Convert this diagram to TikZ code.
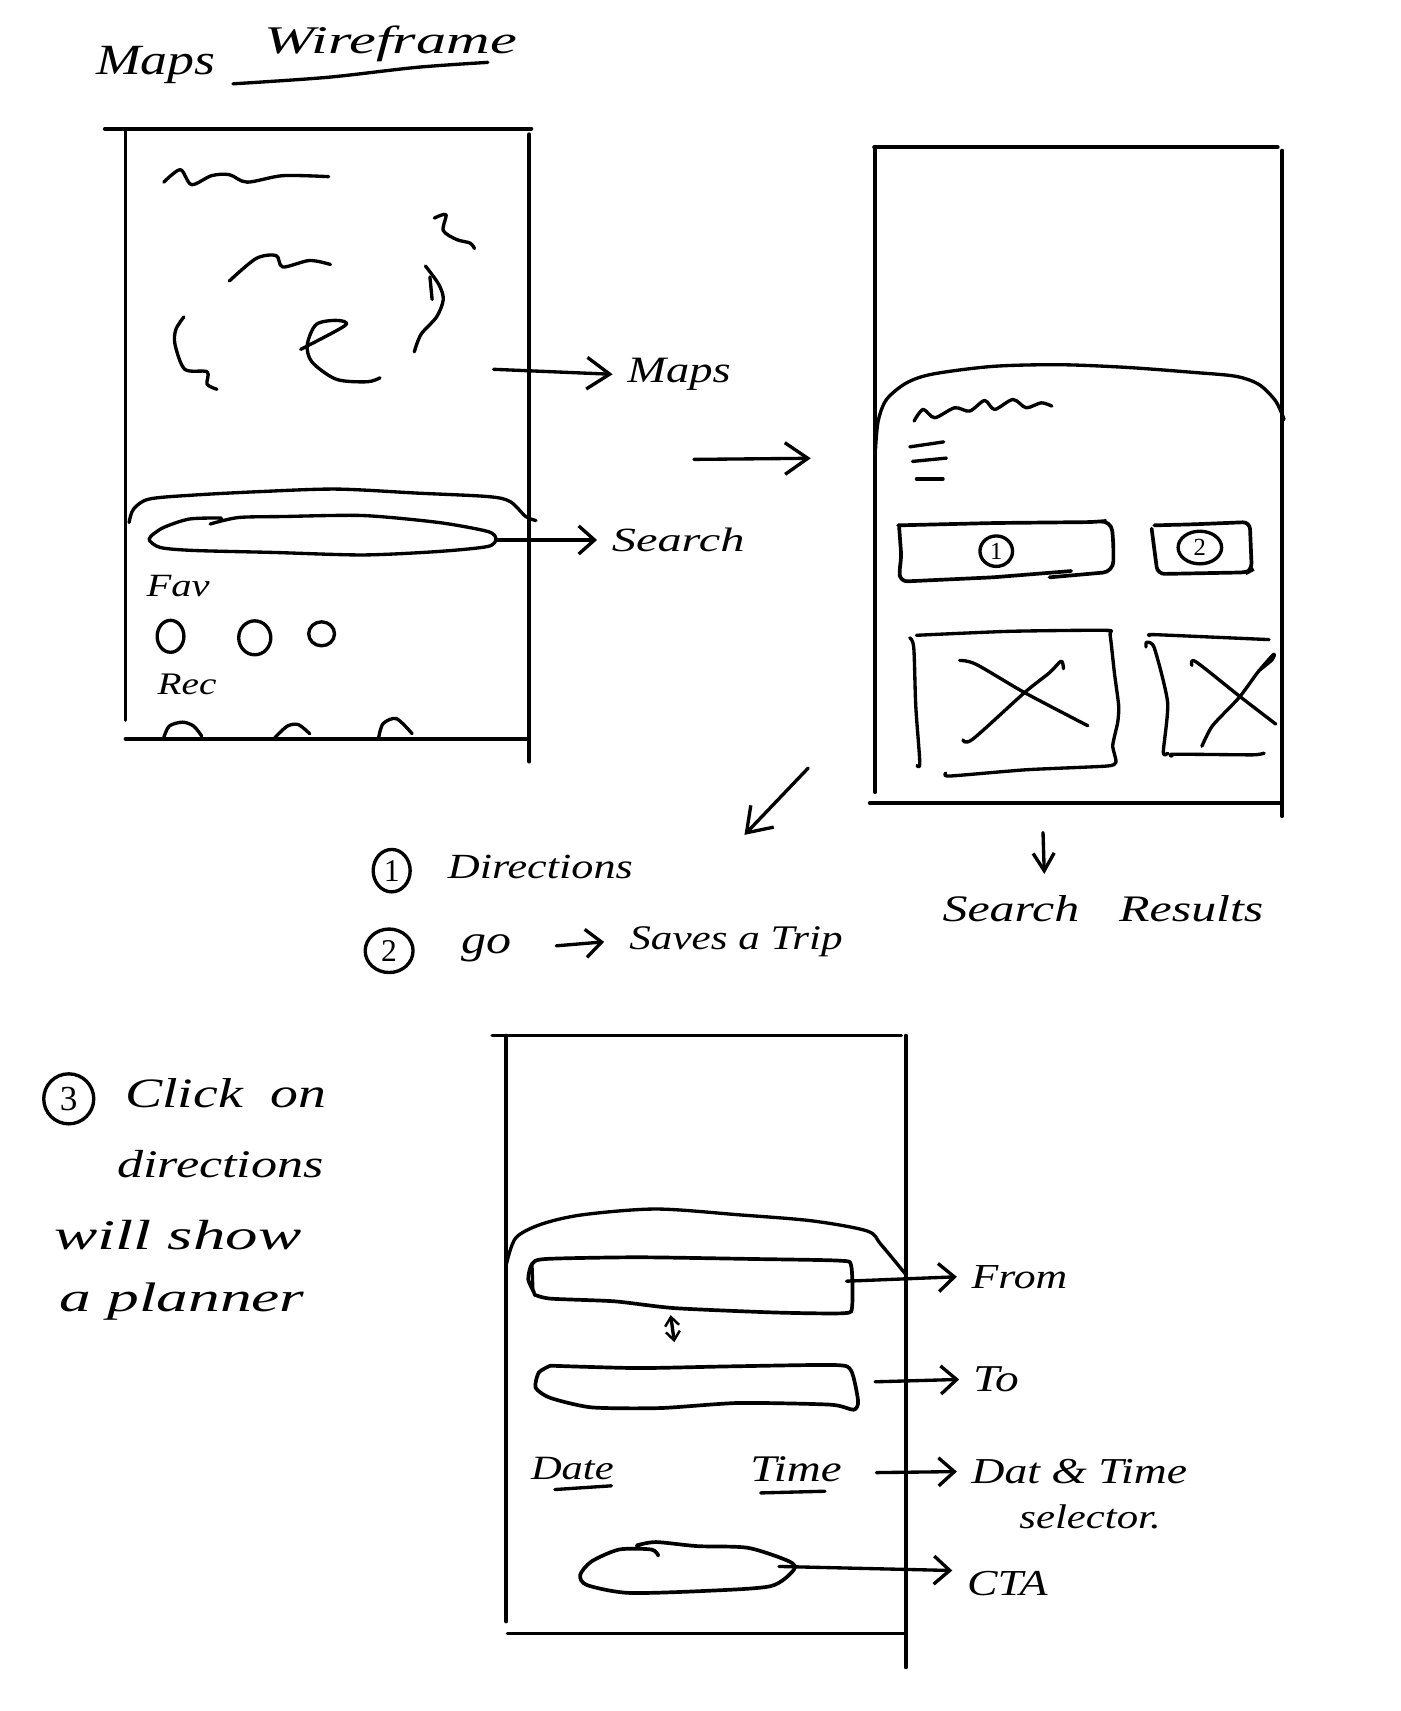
\documentclass[tikz,border=0pt]{standalone}
\usepackage{graphicx}
\usepackage{fontspec}
\setmainfont{Liberation Serif}
\usetikzlibrary{arrows.meta,shapes.geometric}
\newdimen\pxu \pxu=0.3094pt
\newcommand{\hw}[3][.8]{\scalebox{1}[#1]{\resizebox{#2\pxu}{!}{\itshape #3}}}
\tikzset{
  frame/.style={line width=1.05pt,black,line cap=round},
  sk/.style={line width=.95pt,black,line cap=round,line join=round},
  conn/.style={sk,-{Straight Barb[length=6.5pt,width=9pt,line width=.95pt]}},
  small conn/.style={sk,-{Straight Barb[length=4.5pt,width=8pt,line width=.95pt]}},
  tiny conn/.style={sk,{Straight Barb[length=2.5pt,width=4pt,line width=.7pt]}-{Straight Barb[length=2.5pt,width=4pt,line width=.7pt]}},
  hand/.style={inner sep=0pt,anchor=center},
  lab/.style={inner ysep=0pt,inner xsep=4pt,anchor=west},
  num/.style={draw,sk,ellipse,inner sep=0pt,font=\fontsize{7}{8}\selectfont}
}
\begin{document}
\begin{tikzpicture}[x=0.010912cm,y=-0.010912cm]
\useasboundingbox (0,0) rectangle (1283,1568);
% phone frames
\draw[frame] (96,118) -- (487,118);
\draw[frame] (115,119) -- (115,660);
\draw[frame] (485,123) -- (485,698);
\draw[frame] (115,677) -- (485,677);
\draw[frame] (801,135) -- (1171,135);
\draw[frame] (802,135) -- (802,726);
\draw[frame] (1175,138) -- (1175,748);
\draw[frame] (797,736) -- (1175,736);
\draw[frame] (451,949) -- (826,949);
\draw[frame] (464,949) -- (464,1486);
\draw[frame] (830,949) -- (830,1528);
\draw[frame] (465,1497) -- (830,1497);

% ---- first screen
\begin{scope}[shift={(55,0)},x=0.004463cm,y=-0.004987cm]
\node[hand] (titleA) at (215,130) {\hw{110}{Maps}};
\node[hand] (titleB) at (742,88) {\hw[.65]{232}{Wireframe}};
\draw[sk] plot[smooth] coordinates {(388,168) (600,155) (800,135) (960,125)};
\draw[sk] plot[smooth] coordinates {(233,365) (270,340) (295,370) (340,352) (380,350) (420,365) (500,352) (603,354)};
\draw[sk] plot[smooth] coordinates {(380,563) (440,518) (485,512) (500,535) (560,522) (607,530)};
\draw[sk] plot[smooth] coordinates {(840,437) (866,430) (860,462) (890,480) (920,487) (930,498)};
\draw[sk] plot[smooth] coordinates {(820,533) (850,570) (860,600) (845,635) (810,670) (795,705)};
\draw[sk] (835,600) -- (830,555);
\draw[sk] plot[smooth] coordinates {(278,635) (260,660) (258,690) (280,740) (330,745) (330,770) (352,780)};
\draw[sk] plot[smooth] coordinates {(540,700) (640,652) (620,642) (575,650) (555,690) (565,725) (620,760) (690,765) (718,757)};
\draw[sk] plot[smooth] coordinates {(155,1047) (165,1020) (200,1000) (300,992) (450,985) (620,980) (800,988) (960,995) (1010,1005) (1045,1035) (1068,1043)};
\draw[sk] plot[smooth,tension=.45] coordinates {(362,1038) (290,1040) (230,1058) (200,1080) (225,1097) (300,1103) (480,1107) (680,1112) (850,1105) (960,1095) (978,1080) (960,1065) (850,1047) (680,1033) (500,1035) (400,1037) (337,1050)};
\coordinate (mapsS) at (973,740);
\coordinate (pillE) at (978,1082);
\node[lab] (maps) at (1240,750) {\hw{95}{Maps}};
\node[lab] (search) at (1205,1082) {\hw[.7]{122}{Search}};
\draw[conn] (mapsS) -- (maps.west);
\draw[small conn] (pillE) -- (search.west);
\node[hand] (fav) at (265,1175) {\hw{58}{Fav}};
\node[hand] (rec) at (285,1372) {\hw{54}{Rec}};
\draw[sk] (248,1275) ellipse [x radius=30,y radius=32];
\draw[sk] (437,1278) ellipse [x radius=36,y radius=34];
\draw[sk] (587,1270) ellipse [x radius=29,y radius=24];
\draw[sk] plot[smooth] coordinates {(232,1480) (245,1455) (275,1447) (300,1455) (318,1475)};
\draw[sk] plot[smooth] coordinates {(482,1478) (510,1455) (535,1452) (560,1470)};
\draw[sk] plot[smooth] coordinates {(715,1478) (725,1450) (755,1440) (790,1470)};
\end{scope}

% ---- second screen
\begin{scope}[shift={(788,313)},x=0.003328cm,y=-0.003317cm]
\draw[sk] plot[smooth] coordinates {(47,325) (55,240) (80,175) (140,125) (220,98) (400,75) (600,70) (800,78) (1000,93) (1130,105) (1200,130) (1250,180) (1275,235)};
\draw[sk] plot[smooth] coordinates {(163,240) (190,205) (225,230) (285,200) (330,210) (375,178) (405,205) (460,175) (500,200) (545,185) (577,195)};
\draw[sk] (150,318) -- (252,303);
\draw[sk] (158,362) -- (260,352);
\draw[sk] (170,415) -- (250,415);
\draw[frame,rounded corners=3pt] (115,555) -- (400,548) -- (710,545) -- (755,540) -- (762,600) -- (762,695) -- (570,712);
\draw[frame,rounded corners=2pt] (635,693) -- (400,712) -- (122,725) -- (118,690) -- (125,655) -- (118,560);
\node[num,minimum width=30\pxu,minimum height=28\pxu] (one) at (410,633) {1};
\draw[frame,rounded corners=2pt] (885,555) -- (1000,552) -- (1172,545) -- (1178,690) -- (1165,697) -- (895,702) -- (888,650) -- (877,565);
\node[num,minimum width=40\pxu,minimum height=30\pxu] (two) at (1022,622) {2};
\draw[sk] plot[smooth] coordinates {(150,895) (162,925) (168,1100) (180,1270) (172,1280)};
\draw[sk] plot[smooth,tension=.35] coordinates {(170,887) (450,875) (740,872) (752,885) (765,1000) (778,1100) (775,1150) (760,1220) (770,1270) (740,1282) (500,1293) (270,1312) (258,1303)};
\draw[sk] plot[smooth] coordinates {(300,963) (350,975) (495,1060) (685,1160)};
\draw[sk] plot[smooth] coordinates {(310,1203) (340,1200) (495,1060) (570,1000) (605,965) (612,988)};
\draw[sk] plot[smooth,tension=.3] coordinates {(872,888) (885,885) (1230,900)};
\draw[sk] plot[smooth,tension=.4] coordinates {(860,922) (862,908) (885,925) (925,1090) (912,1240) (925,1243)};
\draw[sk] plot[smooth,tension=.3] coordinates {(938,1252) (942,1246) (1180,1248) (1215,1243)};
\draw[sk] plot[smooth] coordinates {(998,978) (1010,967) (1140,1070) (1250,1155)};
\draw[sk] plot[smooth,tension=.4] coordinates {(1028,1222) (1060,1160) (1140,1075) (1195,1000) (1243,945) (1240,960) (1198,995)};
\end{scope}

% ---- annotations between the screens
\begin{scope}[shift={(311,678)},x=0.006384cm,y=-0.003306cm]
\node[num,minimum width=34\pxu,minimum height=39\pxu,font=\fontsize{9}{10}\selectfont] (c1) at (82,395) {1};
\node[hand] (dir) at (315,385) {\hw{170}{Directions}};
\node[num,minimum width=44\pxu,minimum height=40\pxu,font=\fontsize{9}{10}\selectfont] (c2) at (78,637) {2};
\node[hand] (go) at (230,630) {\hw{46}{go}};
\node[lab,inner xsep=0pt] (saves) at (415,610) {\hspace{7pt}\hw{196}{Saves a Trip}};
\coordinate (goS) at (340,622);
\draw[small conn] (goS) -- (saves.west);
\node[hand] (res) at (1197,510) {\hw[.75]{295}{Search\hspace{.8em}Results}};
\coordinate (dnS) at (1103,280);
\coordinate (dnE) at (1105,405);
\draw[sk,-{Straight Barb[length=5pt,width=6pt,line width=.95pt]}] (dnS) -- (dnE);
\coordinate (dgS) at (735,85);
\coordinate (dgE) at (635,287);
\draw[conn] (dgS) -- (dgE);
\end{scope}
\coordinate (nxS) at (636,421);
\coordinate (nxE) at (743,420);
\draw[conn] (nxS) -- (nxE);

% ---- third screen
\begin{scope}[shift={(458,1094)},x=0.004591cm,y=-0.003383cm]
\draw[sk] plot[smooth] coordinates {(15,205) (35,130) (90,90) (180,62) (340,45) (520,62) (680,80) (800,110) (830,150) (885,240)};
\begin{scope}[yshift=-1.2pt]
\draw[frame] plot[smooth,tension=.4] coordinates {(75,280) (62,240) (70,195) (100,180) (300,175) (550,180) (740,185) (765,200) (767,320) (750,340) (600,338) (380,325) (250,305) (110,297) (75,285)};
\draw[sk] (70,195) -- (72,270);
\draw[frame] plot[smooth,tension=.4] coordinates {(110,495) (85,515) (78,560) (110,590) (200,618) (350,620) (520,605) (720,610) (770,625) (780,600) (765,510) (730,493) (500,497) (300,502) (110,495)};
\end{scope}
\coordinate (swS) at (372,358);
\coordinate (swE) at (380,438);
\draw[tiny conn] (swS) -- (swE);
\node[hand] (date) at (158,812) {\hw{76}{Date}};
\draw[sk] (120,873) -- (243,862);
\node[hand] (time) at (645,812) {\hw{84}{Time}};
\draw[sk] (568,883) -- (708,878);
\draw[frame] plot[smooth,tension=.45] coordinates {(345,1068) (330,1050) (260,1050) (200,1085) (175,1125) (190,1155) (280,1178) (450,1172) (590,1158) (640,1110) (630,1085) (540,1045) (430,1040) (340,1028) (298,1038)};
\coordinate (fromS) at (755,258);
\coordinate (toS) at (817,555);
\coordinate (dtS) at (820,823);
\coordinate (ctaS) at (608,1100);
\coordinate (ctaE) at (985,1112);
\node[lab] (from) at (995,245) {\hw{88}{From}};
\node[lab] (to) at (1000,548) {\hw{42}{To}};
\node[lab] (dt) at (995,820) {\hw{198}{Dat \& Time}};
\node[hand] (sel) at (1285,955) {\hw{130}{selector.}};
\node[lab] (cta) at (985,1150) {\hw{74}{CTA}};
\draw[small conn] (fromS) -- (from.west);
\draw[small conn] (toS) -- (to.west);
\draw[small conn] (dtS) -- (dt.west);
\draw[small conn] (ctaS) -- (ctaE);
\end{scope}

% ---- note
\node[num,minimum width=46\pxu,minimum height=46\pxu,font=\fontsize{10}{11}\selectfont] (c3) at (63,1007) {3};
\node[hand] (n1) at (207,1002) {\hw[.75]{185}{Click\hspace{.5em}on}};
\node[hand] (n2) at (202,1067) {\hw[.75]{190}{directions}};
\node[hand] (n3) at (163,1132) {\hw[.65]{227}{will show}};
\node[hand] (n4) at (167,1193) {\hw[.65]{225}{a planner}};
\end{tikzpicture}
\end{document}
